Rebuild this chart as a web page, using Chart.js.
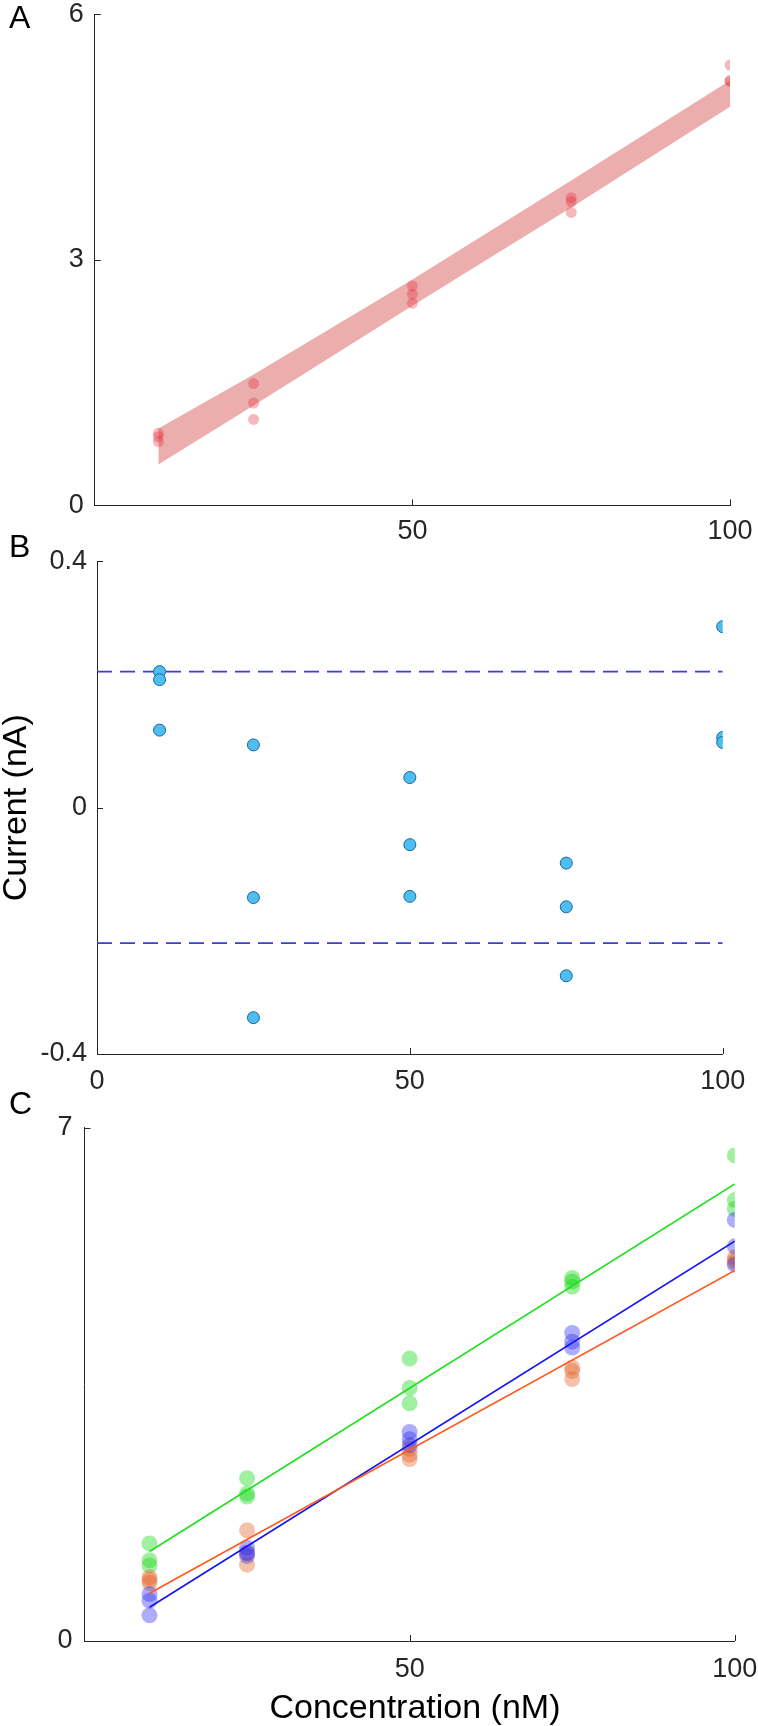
<!DOCTYPE html>
<html>
<head>
<meta charset="utf-8">
<title>Calibration panels</title>
<script src="https://cdn.jsdelivr.net/npm/chart.js@4.4.1/dist/chart.umd.min.js"></script>
<style>
  body { margin:0; background:#fff; width:758px; height:1726px; position:relative; overflow:hidden;
         font-family:"Liberation Sans", Arial, sans-serif; }
  canvas { position:absolute; left:0; }
  .tag { position:absolute; left:9px; font-size:32px; line-height:32px; color:#000; }
  .xtitle { position:absolute; left:165px; width:500px; text-align:center;
            font-size:34px; line-height:34px; color:#000; }
</style>
</head>
<body>
<canvas id="chartA" width="758" height="545" style="top:0"></canvas>
<canvas id="chartB" width="758" height="550" style="top:545px"></canvas>
<canvas id="chartC" width="758" height="631" style="top:1095px"></canvas>
<div class="tag" style="top:1px">A</div>
<div class="tag" style="top:530px">B</div>
<div class="tag" style="top:1087px">C</div>
<div class="xtitle" style="top:1689px">Concentration (nM)</div>

<script>
'use strict';

// concentrations (nM)
const conc = [10, 25, 50, 75, 100];

// panel A: replicate signals + shaded band
const aRep1 = [0.88, 1.49, 2.68, 3.76, 5.38];
const aRep2 = [0.84, 1.25, 2.58, 3.71, 5.19];
const aRep3 = [0.78, 1.05, 2.47, 3.58, 5.18];
const bandUpper = [0.94, 1.60, 2.76, 3.97, 5.19];
const bandLower = [0.50, 1.22, 2.44, 3.64, 4.87];
const aTicksX = [50, 100];
const aTicksY = [0, 3, 6];

// panel B: residuals (nA) and limits
const bRep1 = [0.221, 0.102, 0.049, -0.090, 0.294];
const bRep2 = [0.208, -0.146, -0.060, -0.161, 0.114];
const bRep3 = [0.126, -0.341, -0.144, -0.273, 0.106];
const limitX = [0, 100];
const limitUpper = [0.221, 0.221];
const limitLower = [-0.220, -0.220];
const bTicksX = [0, 50, 100];
const bTicksY = [-0.4, 0, 0.4];

// panel C: three sensors, three replicates each, plus fitted lines
const greenRep1 = [1.33, 2.22, 3.85, 4.95, 6.62];
const greenRep2 = [1.10, 2.01, 3.45, 4.90, 6.01];
const greenRep3 = [1.03, 1.97, 3.24, 4.83, 5.89];
const orangeRep1 = [0.87, 1.51, 2.62, 3.73, 5.23];
const orangeRep2 = [0.83, 1.20, 2.54, 3.68, 5.19];
const orangeRep3 = [0.79, 1.04, 2.48, 3.57, 5.16];
const blueRep1 = [0.64, 1.27, 2.85, 4.20, 5.74];
const blueRep2 = [0.55, 1.20, 2.75, 4.08, 5.38];
const blueRep3 = [0.35, 1.16, 2.67, 4.00, 5.13];
const fitX = [10, 100];
const greenFit = [1.22, 6.23];
const orangeFit = [0.65, 5.05];
const blueFit = [0.46, 5.45];
const cTicksX = [50, 100];
const cTicksY = [0, 7];

const axisColor = '#262626';
const fontFamily = '"Liberation Sans", Arial, Helvetica, sans-serif';

const pts = (xs, ys) => xs.map((x, i) => ({ x, y: ys[i] }));
const reps = (...series) => series.flatMap(s => pts(conc, s));

// MATLAB style inward tick marks
const innerTicks = {
  id: 'innerTicks',
  afterDraw(chart) {
    const { ctx, chartArea, scales } = chart;
    ctx.save();
    ctx.strokeStyle = axisColor;
    ctx.lineWidth = 1;
    ctx.beginPath();
    scales.x.ticks.forEach(t => {
      const px = Math.round(scales.x.getPixelForValue(t.value)) + 0.5;
      ctx.moveTo(px, chartArea.bottom);
      ctx.lineTo(px, chartArea.bottom - 6);
    });
    scales.y.ticks.forEach(t => {
      const py = Math.round(scales.y.getPixelForValue(t.value)) + 0.5;
      ctx.moveTo(chartArea.left, py);
      ctx.lineTo(chartArea.left + 6, py);
    });
    ctx.stroke();
    ctx.restore();
  }
};

function axis(min, max, tickList, size, pad, title) {
  const horizontal = size.height !== undefined;
  return {
    type: 'linear', min, max,
    grid: { display: false, drawTicks: false },
    border: { display: true, color: axisColor, width: 1 },
    ticks: {
      color: axisColor, padding: pad,
      font: { family: fontFamily, size: 27, lineHeight: 1 },
      callback: v => String(v)
    },
    title: title || { display: false },
    afterBuildTicks: s => { s.ticks = tickList.map(v => ({ value: v })); },
    afterFit: s => {
      if (horizontal) s.height = size.height; else s.width = size.width;
      // keep the plot box where the layout padding puts it
      s.paddingLeft = s.paddingRight = s.paddingTop = s.paddingBottom = 0;
    }
  };
}

function baseOptions(padding, scales) {
  return {
    responsive: false, animation: false, devicePixelRatio: 1,
    layout: { padding },
    plugins: { legend: { display: false }, tooltip: { enabled: false } },
    scales
  };
}

// Panel A
new Chart(document.getElementById('chartA'), {
  type: 'scatter',
  data: {
    datasets: [
      { data: reps(aRep1, aRep2, aRep3), backgroundColor: 'rgba(228,40,55,0.33)',
        borderWidth: 0, pointRadius: 5.5 },
      { type: 'line', data: pts(conc, bandUpper), showLine: true, pointRadius: 0,
        borderWidth: 0, borderColor: 'rgba(0,0,0,0)', backgroundColor: 'rgba(212,68,68,0.44)',
        fill: '+1', tension: 0 },
      { type: 'line', data: pts(conc, bandLower), showLine: true, pointRadius: 0,
        borderWidth: 0, borderColor: 'rgba(0,0,0,0)', fill: false, tension: 0 }
    ]
  },
  options: baseOptions({ top: 14.3, right: 28, left: 0, bottom: 0 }, {
    x: axis(0, 100, aTicksX, { height: 39.6 }, 13),
    y: axis(0, 6, aTicksY, { width: 94.8 }, 11)
  }),
  plugins: [innerTicks]
});

// Panel B
new Chart(document.getElementById('chartB'), {
  type: 'scatter',
  data: {
    datasets: [
      { data: reps(bRep1, bRep2, bRep3), backgroundColor: '#4DBEEE',
        borderColor: '#1665a8', borderWidth: 1, pointRadius: 6 },
      { type: 'line', data: pts(limitX, limitUpper), showLine: true, pointRadius: 0,
        borderColor: '#3d3dd8', borderWidth: 1.8, borderDash: [15, 8], fill: false },
      { type: 'line', data: pts(limitX, limitLower), showLine: true, pointRadius: 0,
        borderColor: '#3d3dd8', borderWidth: 1.8, borderDash: [15, 8], fill: false }
    ]
  },
  options: baseOptions({ top: 16.4, right: 35.3, left: 0, bottom: 0 }, {
    x: axis(0, 100, bTicksX, { height: 41 }, 14),
    y: axis(-0.4, 0.4, bTicksY, { width: 97 }, 10, {
      display: true, text: 'Current (nA)', color: '#000', padding: 0,
      font: { family: fontFamily, size: 34, lineHeight: 1 }
    })
  }),
  plugins: [innerTicks]
});

// Panel C
const lineSet = (ys, color) => ({ type: 'line', data: pts(fitX, ys), showLine: true,
  pointRadius: 0, borderColor: color, borderWidth: 1.6, fill: false });
const dotSet = (series, color) => ({ data: reps(...series), backgroundColor: color,
  borderWidth: 0, pointRadius: 8 });

new Chart(document.getElementById('chartC'), {
  type: 'scatter',
  data: {
    datasets: [
      lineSet(greenFit, '#1fe01f'),
      lineSet(orangeFit, '#ff5a1e'),
      lineSet(blueFit, '#1414f0'),
      dotSet([blueRep1, blueRep2, blueRep3], 'rgba(40,40,240,0.38)'),
      dotSet([orangeRep1, orangeRep2, orangeRep3], 'rgba(225,95,35,0.38)'),
      dotSet([greenRep1, greenRep2, greenRep3], 'rgba(20,215,20,0.4)')
    ]
  },
  options: baseOptions({ top: 32.5, right: 23.2, left: 0, bottom: 0 }, {
    x: axis(0, 100, cTicksX, { height: 85 }, 15),
    y: axis(0, 7, cTicksY, { width: 84.5 }, 12)
  }),
  plugins: [innerTicks]
});
</script>
</body>
</html>
